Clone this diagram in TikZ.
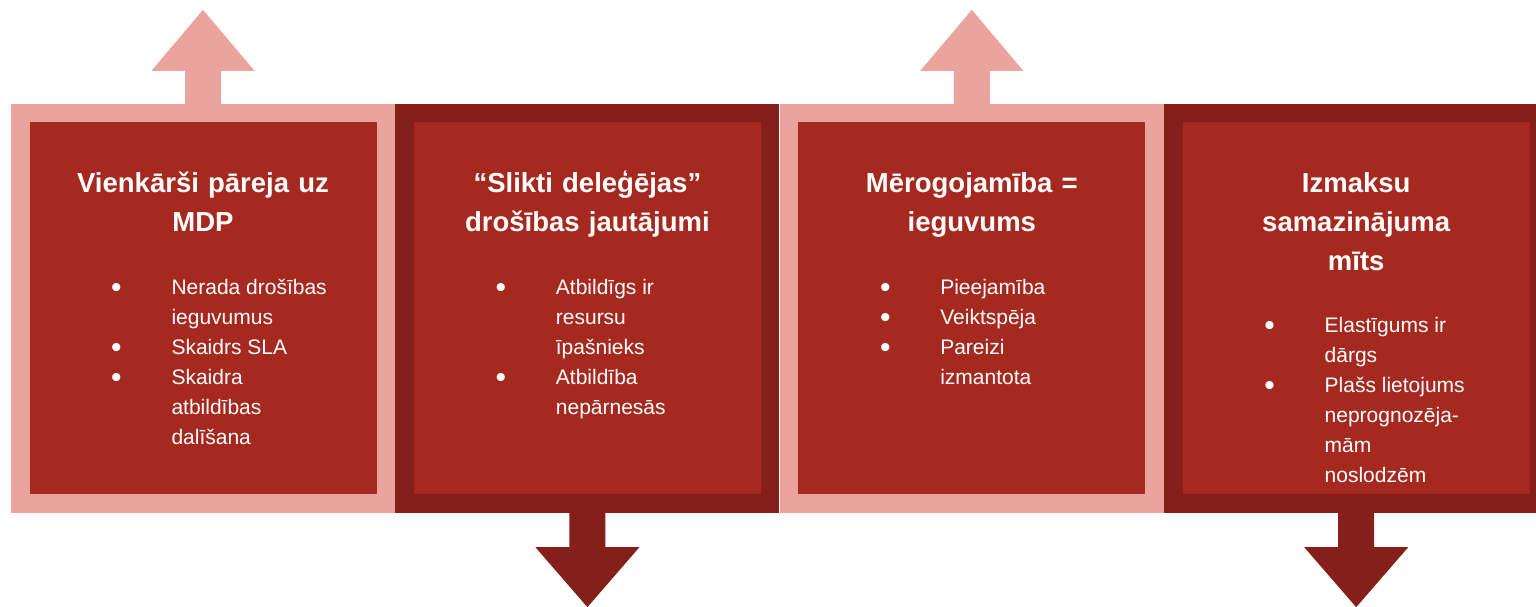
\documentclass[tikz,border=0pt]{standalone}
\usepackage{fontspec}
\setmainfont{Liberation Sans}
\usetikzlibrary{positioning}
\definecolor{rosy}{RGB}{235,164,157}
\definecolor{maroon}{RGB}{133,31,26}
\definecolor{brick}{RGB}{166,41,31}
\newcommand{\dotb}{\makebox[0pt]{\fontsize{30}{30}\selectfont\raisebox{-3pt}{•}}}

\begin{document}
\begin{tikzpicture}[x=1pt, y=1pt,
    node distance=0pt,
    frame/.style={rectangle, inner sep=0pt, minimum width=384pt, minimum height=409pt},
    card/.style={rectangle, fill=brick, inner sep=0pt, minimum width=347pt, minimum height=372pt},
    title/.style={text=white, font=\fontsize{27.5}{39}\selectfont\bfseries, text width=330pt, align=center, anchor=base, inner sep=0pt},
    items/.style={text=white, font=\fontsize{21}{30}\selectfont, anchor=base west, inner sep=0pt}
  ]
  \clip (0,0) rectangle (1536,607);
  % frames
  \node[frame, fill=rosy] (f1) at (203,298.5) {};
  \node[frame, fill=maroon, right=of f1] (f2) {};
  \node[frame, fill=rosy, right=of f2] (f3) {};
  \node[frame, fill=maroon, right=of f3] (f4) {};
  % block arrows
  \fill[rosy] ([xshift=-18pt]f1.north) -- ++(0,33) -- ++(-33.5,0) -- ++(51.5,61) -- ++(51.5,-61) -- ++(-33.5,0) -- ([xshift=18pt]f1.north) -- cycle;
  \fill[rosy] ([xshift=-18pt]f3.north) -- ++(0,33) -- ++(-33.5,0) -- ++(51.5,61) -- ++(51.5,-61) -- ++(-33.5,0) -- ([xshift=18pt]f3.north) -- cycle;
  \fill[maroon] ([xshift=-18pt]f2.south) -- ++(0,-34) -- ++(-34,0) -- ++(52,-60) -- ++(52,60) -- ++(-34,0) -- ([xshift=18pt]f2.south) -- cycle;
  \fill[maroon] ([xshift=-18pt]f4.south) -- ++(0,-34) -- ++(-34,0) -- ++(52,-60) -- ++(52,60) -- ++(-34,0) -- ([xshift=18pt]f4.south) -- cycle;
  % cards
  \node[card] (c1) at (f1) {};
  \node[card] (c2) at (f2) {};
  \node[card] (c3) at (f3) {};
  \node[card] (c4) at (f4) {};
  % titles
  \node[title] (t1) at ([yshift=-70pt]c1.north) {Vienkārši pāreja uz\\MDP};
  \node[title] (t2) at ([yshift=-70pt]c2.north) {“Slikti deleģējas”\\drošības jautājumi};
  \node[title] (t3) at ([yshift=-70pt]c3.north) {Mērogojamība =\\ieguvums};
  \node[title] (t4) at ([yshift=-70pt]c4.north) {Izmaksu\\samazinājuma\\mīts};
  % bullet lists
  \node[items] (l1) at ([xshift=87pt,yshift=-172pt]c1.north west) {\begin{tabular}[t]{@{}l@{\hspace{55pt}}l@{}}
    \dotb & Nerada drošības\\
          & ieguvumus\\
    \dotb & Skaidrs SLA\\
    \dotb & Skaidra\\
          & atbildības\\
          & dalīšana
  \end{tabular}};
  \node[items] (l2) at ([xshift=87pt,yshift=-172pt]c2.north west) {\begin{tabular}[t]{@{}l@{\hspace{55pt}}l@{}}
    \dotb & Atbildīgs ir\\
          & resursu\\
          & īpašnieks\\
    \dotb & Atbildība\\
          & nepārnesās
  \end{tabular}};
  \node[items] (l3) at ([xshift=87pt,yshift=-172pt]c3.north west) {\begin{tabular}[t]{@{}l@{\hspace{55pt}}l@{}}
    \dotb & Pieejamība\\
    \dotb & Veiktspēja\\
    \dotb & Pareizi\\
          & izmantota
  \end{tabular}};
  \node[items] (l4) at ([xshift=87pt,yshift=-210pt]c4.north west) {\begin{tabular}[t]{@{}l@{\hspace{55pt}}l@{}}
    \dotb & Elastīgums ir\\
          & dārgs\\
    \dotb & Plašs lietojums\\
          & neprognozēja-\\
          & mām\\
          & noslodzēm
  \end{tabular}};
\end{tikzpicture}
\end{document}
